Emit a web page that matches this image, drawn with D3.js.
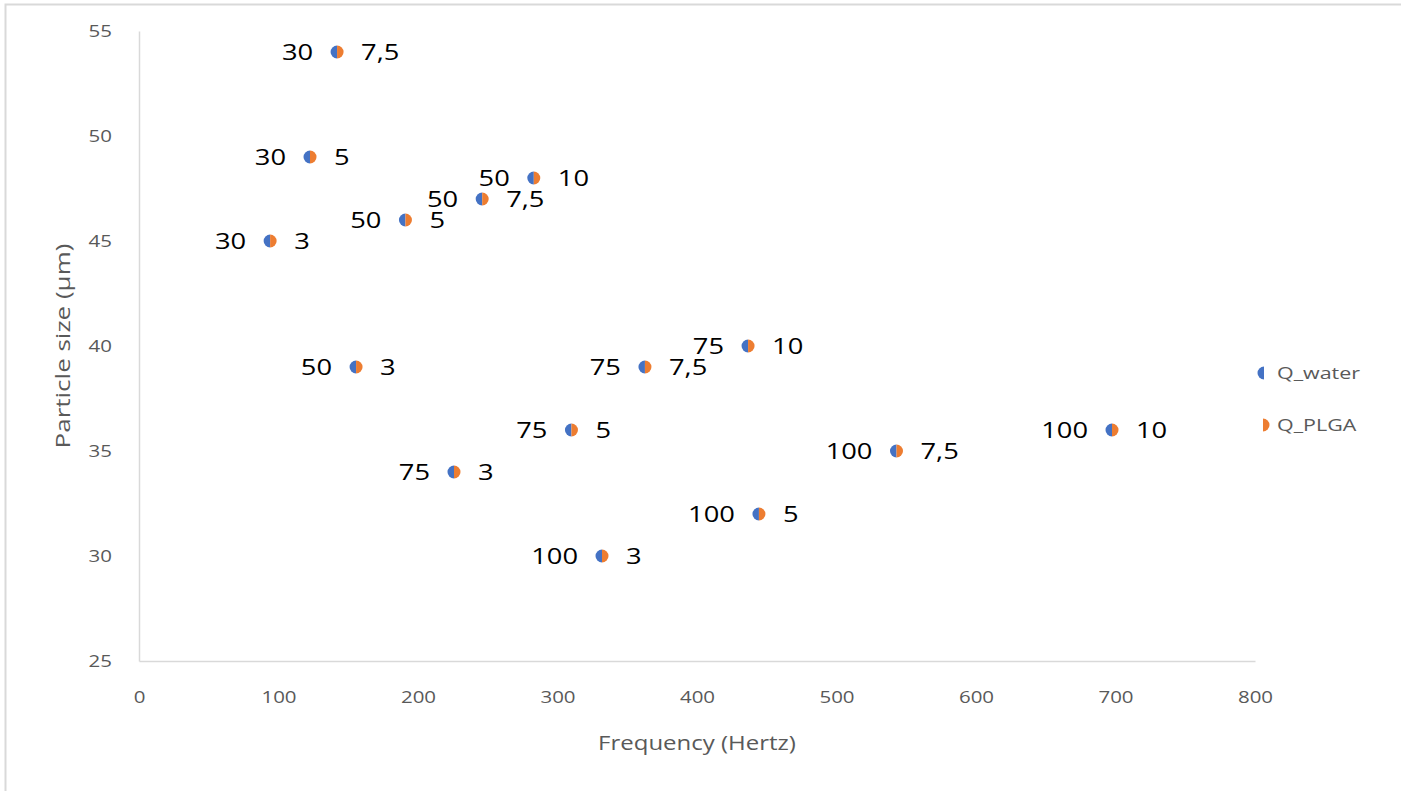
<!DOCTYPE html>
<html><head><meta charset="utf-8">
<script src="https://cdn.jsdelivr.net/npm/d3@7"></script>
<style>body{margin:0;background:#fff}</style>
</head><body>
<svg id="c" width="1407" height="791"></svg>
<script>
const frequency = [142, 122.6, 283, 246, 191, 94, 436.6, 155.6, 362.7, 310, 697.5, 543, 225.8, 444.4, 331.9];
const particleSize = [54, 49, 48, 47, 46, 45, 40, 39, 39, 36, 36, 35, 34, 32, 30];
const qWaterLabels = ["30","30","50","50","50","30","75","50","75","75","100","100","75","100","100"];
const qPlgaLabels = ["7,5","5","10","7,5","5","3","10","3","7,5","5","10","7,5","3","5","3"];
const xTicks = [0,100,200,300,400,500,600,700,800];
const yTicks = [25,30,35,40,45,50,55];
const seriesNames = ["Q_water","Q_PLGA"];
const seriesColors = ["#4472C4","#ED7D31"];

const svg = d3.select("#c");
const FONT = "'Open Sans', sans-serif";
const SX = 1.28;

// frame
svg.append("path").attr("d","M5.5,791 V4.5 H1401").attr("fill","none").attr("stroke","#d9d9d9").attr("stroke-width",2);

const x = d3.scaleLinear().domain([0,800]).range([139,1255]);
const y = d3.scaleLinear().domain([25,55]).range([661,31]);

// axes
const gx = svg.append("g").attr("transform","translate(0,661)")
  .call(d3.axisBottom(x).tickValues(xTicks).tickSize(0).tickPadding(0));
gx.select(".domain").attr("stroke","#d9d9d9").attr("stroke-width",1.5);
gx.selectAll("text").attr("y",0).attr("dy",null)
  .attr("transform", d => `translate(0,42) scale(${SX},1)`)
  .attr("x",0).attr("fill","#595959").attr("font-size",16).attr("font-family",FONT);

const gy = svg.append("g").attr("transform","translate(139,0)")
  .call(d3.axisLeft(y).tickValues(yTicks).tickSize(0).tickPadding(0));
gy.select(".domain").attr("stroke","#d9d9d9").attr("stroke-width",1.5);
gy.selectAll("text").attr("x",0).attr("dy","0.35em")
  .attr("transform", d => `translate(-27,0) scale(${SX},1)`)
  .attr("fill","#595959").attr("font-size",16).attr("font-family",FONT);

// axis titles
svg.append("text").attr("transform",`translate(697,750) scale(1.2,1)`).attr("text-anchor","middle")
  .attr("fill","#595959").attr("font-size",20).attr("font-family",FONT).text("Frequency (Hertz)");
svg.append("text").attr("transform",`translate(70,346) rotate(-90) scale(1.3,1)`).attr("text-anchor","middle")
  .attr("fill","#595959").attr("font-size",20).attr("font-family",FONT).text("Particle size (µm)");

// markers
const R = 6.5;
const leftHalf = d3.arc().innerRadius(0).outerRadius(R).startAngle(Math.PI).endAngle(2*Math.PI);
const rightHalf = d3.arc().innerRadius(0).outerRadius(R).startAngle(0).endAngle(Math.PI);
const pts = frequency.map((f,i)=>({f, s: particleSize[i], a: qWaterLabels[i], b: qPlgaLabels[i]}));

const g = svg.append("g");
g.selectAll("path.w").data(pts).join("path").attr("class","w")
  .attr("d",leftHalf).attr("fill",seriesColors[0])
  .attr("transform",d=>`translate(${x(d.f)},${y(d.s)})`);
g.selectAll("path.p").data(pts).join("path").attr("class","p")
  .attr("d",rightHalf).attr("fill",seriesColors[1])
  .attr("transform",d=>`translate(${x(d.f)},${y(d.s)})`);

g.selectAll("text.lw").data(pts).join("text").attr("class","lw")
  .attr("transform",d=>`translate(${x(d.f)-24},${y(d.s)}) scale(1.3,1)`)
  .attr("dy","0.36em").attr("text-anchor","end").attr("font-size",21).attr("font-family",FONT)
  .attr("fill","#000").text(d=>d.a);
g.selectAll("text.lp").data(pts).join("text").attr("class","lp")
  .attr("transform",d=>`translate(${x(d.f)+24},${y(d.s)}) scale(1.3,1)`)
  .attr("dy","0.36em").attr("text-anchor","start").attr("font-size",21).attr("font-family",FONT)
  .attr("fill","#000").text(d=>d.b);

// legend
const lg = svg.append("g");
const legY = [373, 425];
lg.append("path").attr("d",leftHalf).attr("fill",seriesColors[0]).attr("transform",`translate(1264,${legY[0]})`);
lg.append("path").attr("d",rightHalf).attr("fill",seriesColors[1]).attr("transform",`translate(1263,${legY[1]})`);
seriesNames.forEach((n,i)=>{
  lg.append("text").attr("transform",`translate(1277,${legY[i]}) scale(1.3,1)`).attr("dy","0.36em")
    .attr("fill","#595959").attr("font-size",16.5).attr("font-family",FONT).text(n);
});
</script>
</body></html>
